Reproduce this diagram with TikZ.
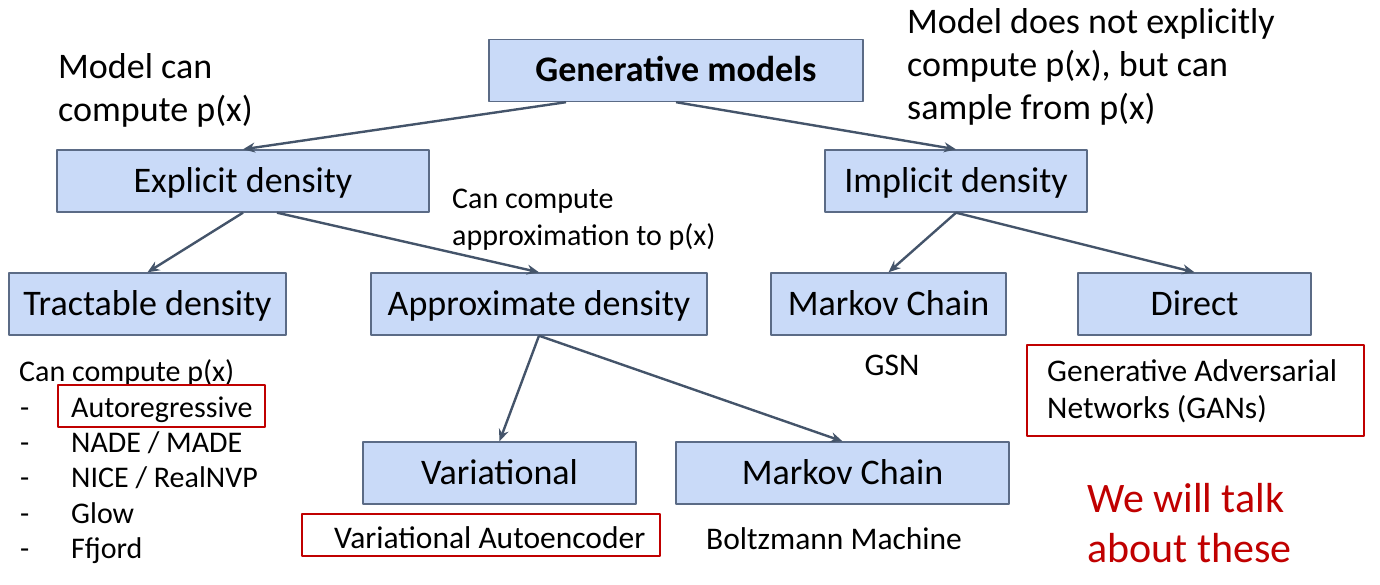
\documentclass[tikz,border=0pt]{standalone}
\usepackage{fontspec}
\setmainfont{Carlito}
\usetikzlibrary{arrows.meta}
\definecolor{boxfill}{HTML}{C9DAF8}
\definecolor{boxline}{HTML}{5B6B86}
\definecolor{arrowcol}{HTML}{44546A}
\definecolor{talkred}{HTML}{C00000}
\begin{document}
\begin{tikzpicture}[
		x=1pt, y=-1pt,
		line join=round, >={Stealth[length=12pt,width=10pt]},
		catbox/.style={draw=boxline, line width=1.4pt, fill=boxfill, minimum height=62pt, inner sep=0pt,
			text height=22.7pt, text depth=0pt, font=\fontsize{36}{44}\selectfont},
		link/.style={->, draw=arrowcol, line width=2.4pt},
		note/.style={anchor=base west, inner sep=0pt, font=\fontsize{31.5}{36}\selectfont},
		smallnote/.style={note, font=\fontsize{30}{36}\selectfont},
		bignote/.style={anchor=base west, inner sep=0pt, font=\fontsize{36}{44}\selectfont},
		hilite/.style={draw=talkred, line width=2.6pt}
		]
		\useasboundingbox (0,0) rectangle (1380,585);
		% category boxes
		\node[catbox, minimum width=374pt] (gen) at (676,70.5) {\bfseries Generative models};
		\node[catbox, minimum width=372pt] (explicit) at (243,181) {Explicit density};
		\node[catbox, minimum width=262pt] (implicit) at (956,181) {Implicit density};
		\node[catbox, minimum width=277pt] (tractable) at (147.5,304) {Tractable density};
		\node[catbox, minimum width=336pt] (approx) at (539,304) {Approximate density};
		\node[catbox, minimum width=235pt] (markovA) at (888.5,304) {Markov Chain};
		\node[catbox, minimum width=233pt] (direct) at (1194.5,304) {Direct};
		\node[catbox, minimum width=273pt] (variational) at (499.5,473) {Variational};
		\node[catbox, minimum width=333pt] (markovB) at (842.5,473) {Markov Chain};
		% tree links
		\draw[link] ([xshift=-110pt]gen.south) -- (explicit.north);
		\draw[link] (gen.south) -- (implicit.north);
		\draw[link] (explicit.south) -- (tractable.north);
		\draw[link] ([xshift=34pt]explicit.south) -- (approx.north);
		\draw[link] (implicit.south) -- (markovA.north);
		\draw[link] (implicit.south) -- (direct.north);
		\draw[link] (approx.south) -- (variational.north);
		\draw[link] (approx.south) -- (markovB.north);
		% side notes
		\node[bignote] (canA) at (58,79) {Model can};
		\node[bignote] (canB) at (58,122) {compute p(x)};
		\node[bignote] (notA) at (907,34) {Model does not explicitly};
		\node[bignote] (notB) at (907,77) {compute p(x), but can};
		\node[bignote] (notC) at (907,120) {sample from p(x)};
		\node[smallnote] (apxA) at (452,209) {Can compute};
		\node[smallnote] (apxB) at (452,245) {approximation to p(x)};
		% examples
		\node[smallnote] (tractnote) at (19,381) {Can compute p(x)};
		\foreach \entry [count=\i] in {Autoregressive, NADE / MADE, NICE / RealNVP, Glow, Ffjord} {
			\node[smallnote] (dash\i) at (20,382+35.3*\i) {-};
			\node[smallnote] (entry\i) at (71,382+35.3*\i) {\entry};
		}
		\draw[hilite] (58,385) rectangle (265,427);
		\node[note, anchor=base] (gsn) at (892,375) {GSN};
		\node[note] (boltz) at (706,549) {Boltzmann Machine};
		\draw[hilite] (302,514) rectangle (660,556);
		\node[note] (vae) at (334,548) {Variational Autoencoder};
		\draw[hilite] (1027,345) rectangle (1364,436);
		\node[note] (ganA) at (1047,381) {Generative Adversarial};
		\node[note] (ganB) at (1047,418) {Networks (GANs)};
		\node[anchor=base west, inner sep=0pt, text=talkred, font=\fontsize{42}{50}\selectfont] (talkA) at (1087,512) {We will talk};
		\node[anchor=base west, inner sep=0pt, text=talkred, font=\fontsize{42}{50}\selectfont] (talkB) at (1087,562) {about these};
\end{tikzpicture}
\end{document}
